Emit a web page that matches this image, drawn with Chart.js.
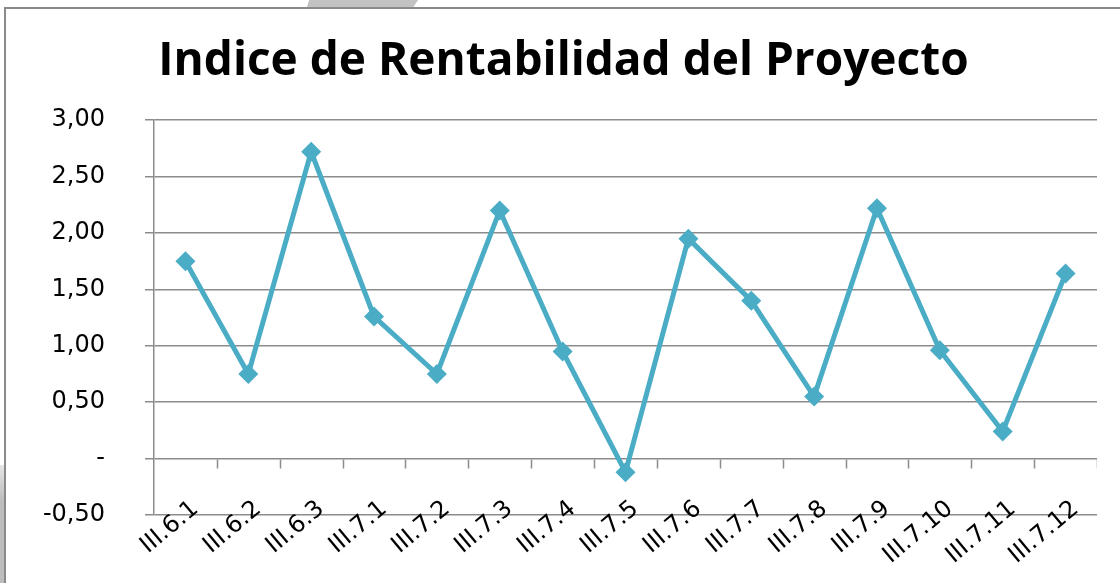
<!DOCTYPE html>
<html>
<head>
<meta charset="utf-8">
<title>Indice de Rentabilidad del Proyecto</title>
<script src="https://cdn.jsdelivr.net/npm/chart.js@4.4.1/dist/chart.umd.min.js"></script>
<style>
  html, body { margin: 0; padding: 0; background: #fff; }
  body { width: 1120px; height: 583px; position: relative; overflow: hidden; }
  .frame {
    position: absolute; left: 4px; top: 7px; right: -4px; bottom: -4px;
    border-left: 2px solid #8a8a8a; border-top: 2px solid #8a8a8a;
  }
  /* grey bits of neighbouring shapes visible at the edges of the screenshot */
  .shade-top {
    position: absolute; left: 307px; top: 0; width: 111px; height: 7px; background: #c2c2c2;
    clip-path: polygon(2% 0, 100% 0, 96% 100%, 0 100%);
  }
  .shade-left {
    position: absolute; left: 0; top: 465px; width: 4px; bottom: 0;
    background: linear-gradient(#e6e6e6, #bdbdbd 30%);
  }
  #chart { position: absolute; left: 0; top: 0; }
</style>
</head>
<body>
<div class="shade-top"></div>
<div class="shade-left"></div>
<div class="frame"></div>
<canvas id="chart" width="1097" height="583"></canvas>
<script>
  // data
  const categories = ['III.6.1', 'III.6.2', 'III.6.3', 'III.7.1', 'III.7.2', 'III.7.3', 'III.7.4', 'III.7.5',
    'III.7.6', 'III.7.7', 'III.7.8', 'III.7.9', 'III.7.10', 'III.7.11', 'III.7.12'];
  const indexValues = [1.75, 0.75, 2.72, 1.26, 0.75, 2.20, 0.95, -0.12, 1.95, 1.40, 0.55, 2.22, 0.96, 0.24, 1.64];
  const yMin = -0.5;
  const yMax = 3.0;
  const yStep = 0.5;

  const lineColor = '#4bacc6';
  const gridColor = '#8c8c8c';
  const labelFont = '24px "DejaVu Sans"';
  const labelAngle = 40; // degrees

  function fmtTick(v) {
    if (Math.abs(v) < 1e-9) return '-';
    return v.toFixed(2).replace('.', ',');
  }

  // horizontal axis crosses at 0: tick marks between categories,
  // labels sit low and slightly overlap the plot bottom (chart.js would clip them)
  const categoryAxis = {
    id: 'categoryAxis',
    afterDatasetsDraw(chart) {
      const x = chart.scales.x;
      const y = chart.scales.y;
      const y0 = Math.round(y.getPixelForValue(0)) + 0.5;
      const n = categories.length;
      const ctx = chart.ctx;
      ctx.save();
      ctx.strokeStyle = gridColor;
      ctx.lineWidth = 1.5;
      ctx.beginPath();
      for (let i = 1; i <= n; i++) {
        const px = Math.round(x.left + (x.width * i) / n) + 0.5;
        ctx.moveTo(px, y0);
        ctx.lineTo(px, y0 + 9);
      }
      ctx.stroke();

      ctx.fillStyle = '#000';
      ctx.font = labelFont;
      ctx.textAlign = 'right';
      ctx.textBaseline = 'middle';
      categories.forEach((lab, i) => {
        ctx.save();
        ctx.translate(x.getPixelForValue(i) + 10, y.bottom - 9);
        ctx.rotate(-labelAngle * Math.PI / 180);
        ctx.fillText(lab, 0, 0);
        ctx.restore();
      });
      ctx.restore();
    }
  };

  new Chart(document.getElementById('chart').getContext('2d'), {
    type: 'line',
    data: {
      labels: categories,
      datasets: [{
        label: 'Indice de Rentabilidad',
        data: indexValues,
        borderColor: lineColor,
        backgroundColor: lineColor,
        borderWidth: 5,
        tension: 0,
        pointStyle: 'rectRot',
        pointRadius: 10,
        pointBorderWidth: 0,
        pointBackgroundColor: lineColor
      }]
    },
    options: {
      responsive: false,
      animation: false,
      devicePixelRatio: 1,
      layout: { autoPadding: false, padding: { left: 30, right: 0, top: 0, bottom: 0 } },
      plugins: {
        legend: { display: false },
        tooltip: { enabled: false },
        title: {
          display: true,
          text: 'Indice de Rentabilidad del Proyecto',
          color: '#000',
          font: { family: 'Open Sans', size: 46, weight: 'bold', lineHeight: 1.2 },
          padding: { top: 34, bottom: 31 }
        }
      },
      scales: {
        x: {
          type: 'category',
          offset: true,
          grid: { display: false },
          border: { display: false },
          ticks: { display: false },
          afterFit(scale) {
            scale.height = 68;
            scale.paddingLeft = 0;
            scale.paddingRight = 0;
          }
        },
        y: {
          min: yMin,
          max: yMax,
          grid: { color: gridColor, lineWidth: 1.5, tickLength: 9, drawTicks: true },
          border: { display: true, color: gridColor, width: 1.5 },
          ticks: {
            stepSize: yStep,
            padding: 40,
            color: '#000',
            font: { family: 'DejaVu Sans', size: 24 },
            callback: (v) => fmtTick(v)
          },
          afterFit(scale) { scale.width = 124; }
        }
      }
    },
    plugins: [categoryAxis]
  });
</script>
</body>
</html>
